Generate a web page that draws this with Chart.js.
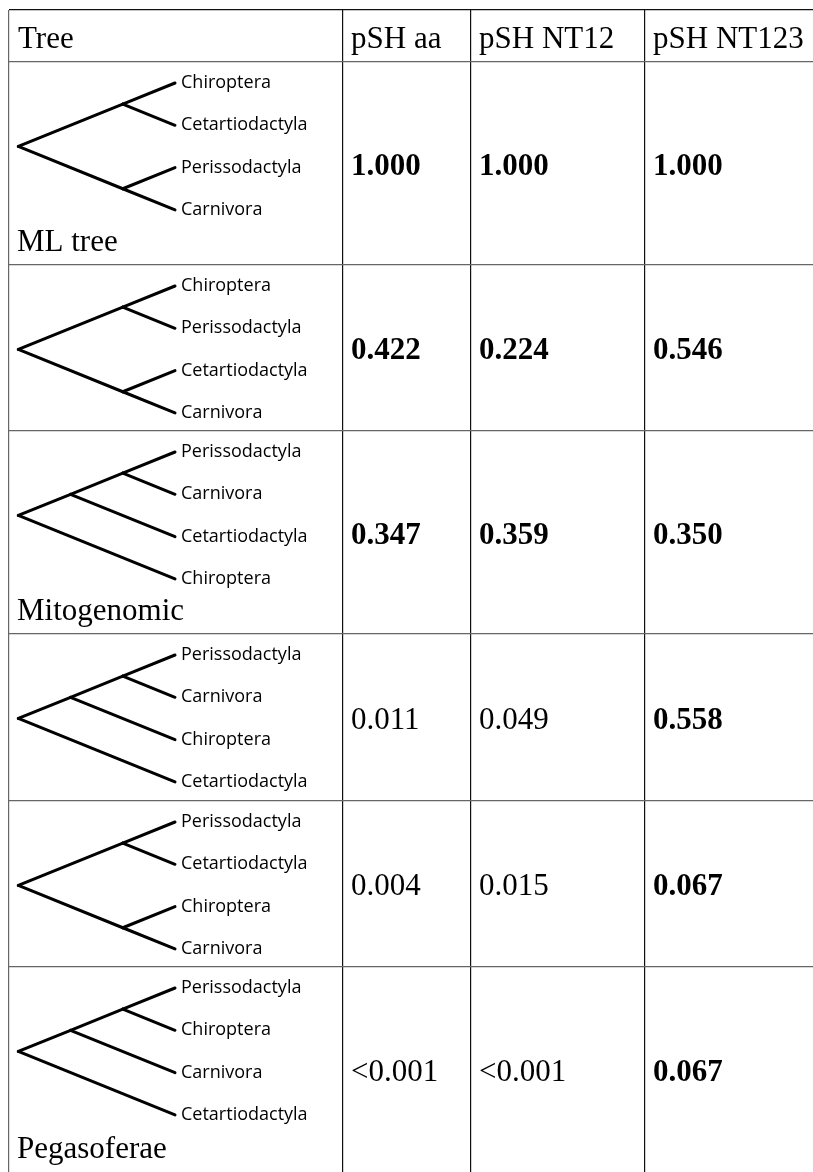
<!DOCTYPE html>
<html>
<head>
<meta charset="utf-8">
<title>pSH tree tests</title>
<script src="https://cdn.jsdelivr.net/npm/chart.js@4.4.0/dist/chart.umd.min.js"></script>
<style>
  html, body { margin: 0; padding: 0; background: #fff; overflow: hidden; }
  #wrap { width: 813px; height: 1172px; }
</style>
</head>
<body>
<div id="wrap"><canvas id="tbl" width="813" height="1172"></canvas></div>
<script>
/* table data */
const headers  = ['Tree', 'pSH aa', 'pSH NT12', 'pSH NT123'];
const treeNames = ['ML tree', '', 'Mitogenomic', '', '', 'Pegasoferae'];

// topologies as nested pairs, tips listed top to bottom
const topologies = [
  [['Chiroptera', 'Cetartiodactyla'], ['Perissodactyla', 'Carnivora']],
  [['Chiroptera', 'Perissodactyla'], ['Cetartiodactyla', 'Carnivora']],
  [[['Perissodactyla', 'Carnivora'], 'Cetartiodactyla'], 'Chiroptera'],
  [[['Perissodactyla', 'Carnivora'], 'Chiroptera'], 'Cetartiodactyla'],
  [['Perissodactyla', 'Cetartiodactyla'], ['Chiroptera', 'Carnivora']],
  [[['Perissodactyla', 'Chiroptera'], 'Carnivora'], 'Cetartiodactyla'],
];

const pshAA    = ['1.000', '0.422', '0.347', '0.011', '0.004', '<0.001'];
const pshNT12  = ['1.000', '0.224', '0.359', '0.049', '0.015', '<0.001'];
const pshNT123 = ['1.000', '0.546', '0.350', '0.558', '0.067', '0.067'];
const boldAA    = [true, true, true, false, false, false];
const boldNT12  = [true, true, true, false, false, false];
const boldNT123 = [true, true, true, true, true, true];

/* layout */
const colEdges = [9, 343, 471, 645];
const rowEdges = [10, 62, 265, 431, 634, 801, 967];
const W = 813, H = 1172;
const TIP_X = 175, TIP_OFF = 21, TIP_GAP = 42.3, SLOPE = 0.405;
const SERIF = '"Liberation Serif", "Times New Roman", serif';
const SANS  = '"Open Sans", sans-serif';

function rowBounds(i) {
  return [rowEdges[i + 1], i + 2 < rowEdges.length ? rowEdges[i + 2] : H];
}

// slanted cladogram: every node sits where lines from its outer tips meet
function layoutTree(topo, top) {
  const tips = [], edges = [];
  function walk(n) {
    if (typeof n === 'string') {
      const y = top + TIP_OFF + tips.length * TIP_GAP;
      tips.push({ name: n, x: TIP_X, y });
      return { x: TIP_X, y, lo: y, hi: y };
    }
    const kids = n.map(walk);
    const lo = Math.min(...kids.map(k => k.lo));
    const hi = Math.max(...kids.map(k => k.hi));
    const node = { x: TIP_X - (hi - lo) / 2 / SLOPE, y: (lo + hi) / 2, lo, hi };
    kids.forEach(k => edges.push([node, k]));
    return node;
  }
  walk(topo);
  return { tips, edges };
}

const trees = topologies.map((t, i) => layoutTree(t, rowBounds(i)[0]));

const datasets = [];
trees.forEach(tr => {
  tr.edges.forEach(([a, b]) => {
    datasets.push({
      data: [{ x: a.x, y: a.y }, { x: b.x, y: b.y }],
      showLine: true,
      borderColor: '#000',
      borderWidth: 3,
      borderCapStyle: 'round',
      pointRadius: 0,
      pointHoverRadius: 0,
      clip: false,
    });
  });
});

const cellText = {
  id: 'cellText',
  afterDatasetsDraw(chart) {
    const { ctx, scales: { x, y } } = chart;
    ctx.save();
    ctx.fillStyle = '#000';
    ctx.textAlign = 'left';
    ctx.textBaseline = 'alphabetic';

    // header
    ctx.font = '31px ' + SERIF;
    headers.forEach((h, c) => {
      ctx.fillText(h, x.getPixelForValue(colEdges[c] + (c === 0 ? 9 : 8)), y.getPixelForValue(48));
    });

    const cols = [[pshAA, boldAA], [pshNT12, boldNT12], [pshNT123, boldNT123]];
    topologies.forEach((_, r) => {
      const [top, bot] = rowBounds(r);
      const mid = (top + bot) / 2;
      cols.forEach(([vals, bold], c) => {
        ctx.font = (bold[r] ? 'bold ' : '') + '31px ' + SERIF;
        ctx.fillText(vals[r], x.getPixelForValue(colEdges[c + 1] + 8), y.getPixelForValue(mid + 11));
      });
      if (treeNames[r]) {
        ctx.font = '31px ' + SERIF;
        ctx.fillText(treeNames[r], x.getPixelForValue(17), y.getPixelForValue(bot - 14));
      }
      ctx.font = '18px ' + SANS;
      trees[r].tips.forEach(t => {
        ctx.fillText(t.name, x.getPixelForValue(t.x + 6), y.getPixelForValue(t.y + 5));
      });
    });
    ctx.restore();
  }
};

new Chart(document.getElementById('tbl'), {
  type: 'scatter',
  data: { datasets },
  plugins: [cellText],
  options: {
    responsive: false,
    animation: false,
    devicePixelRatio: 1,
    layout: { padding: { left: colEdges[0], top: rowEdges[0], right: 0, bottom: 0 } },
    plugins: { legend: { display: false }, tooltip: { enabled: false } },
    events: [],
    scales: {
      x: {
        type: 'linear', min: colEdges[0], max: W,
        afterBuildTicks: s => { s.ticks = colEdges.map(v => ({ value: v })); },
        ticks: { display: false, autoSkip: false },
        border: { display: false },
        grid: {
          drawTicks: false,
          lineWidth: 1.2,
          color: c => (c.tick && c.tick.value === colEdges[0]) ? '#666' : '#111',
        },
      },
      y: {
        type: 'linear', min: rowEdges[0], max: H, reverse: true,
        afterBuildTicks: s => { s.ticks = rowEdges.map(v => ({ value: v })); },
        ticks: { display: false, autoSkip: false },
        border: { display: false },
        grid: {
          drawTicks: false,
          lineWidth: 1.2,
          color: c => (c.tick && c.tick.value === rowEdges[0]) ? '#111' : '#666',
        },
      },
    },
  },
});
</script>
</body>
</html>
